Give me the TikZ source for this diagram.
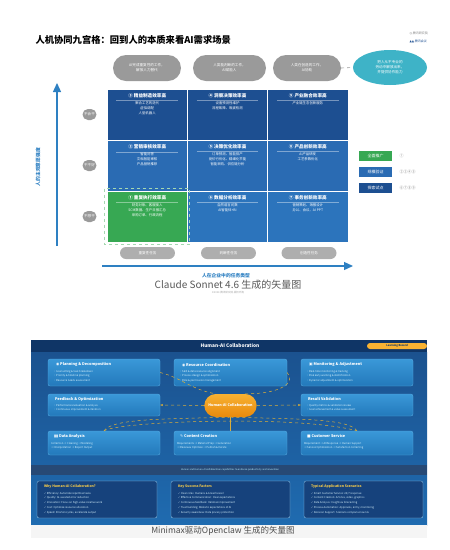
\documentclass[tikz,border=0pt]{standalone}
\usepackage{fontspec}
\setmainfont{Noto Sans CJK SC}
\newfontfamily\symfont{DejaVu Sans}
\usetikzlibrary{shapes.geometric, shapes.misc, arrows.meta, positioning, calc}
\definecolor{navy}{HTML}{1D4F91}
\definecolor{midblue}{HTML}{2A6BB3}
\definecolor{lowblue}{HTML}{2C74BC}
\definecolor{cellgreen}{HTML}{37A853}
\definecolor{pillgray}{HTML}{9A9A9A}
\definecolor{axisblue}{HTML}{2E80C2}
\definecolor{cyanell}{HTML}{3EB3C7}
\definecolor{paneltop}{HTML}{1B528F}
\definecolor{panelbot}{HTML}{1F6BB0}
\definecolor{bardark}{HTML}{0F3566}
\definecolor{cardtop}{HTML}{3A98D8}
\definecolor{cardbot}{HTML}{2379BB}
\definecolor{cardline}{HTML}{5AAEE3}
\definecolor{hubtop}{HTML}{F8B232}
\definecolor{hubbot}{HTML}{E8890C}
\definecolor{gold}{HTML}{D9AE3A}
\definecolor{infobox}{HTML}{16427C}
\definecolor{infotitle}{HTML}{F2C94C}
\tikzset{
	% nine-grid styles
	pill/.style={rounded rectangle, fill=pillgray, text=white, align=center,
		inner sep=1pt, font=\fontsize{3.6}{5}\selectfont},
	cell/.style={rectangle, draw=white, line width=0.8pt,
		minimum width=80.3pt, minimum height=51pt},
	celltext/.style={align=center, text=white, inner sep=0pt,
		font=\fontsize{3.4}{5}\selectfont},
	tag/.style={rectangle, text=white, minimum width=33pt, minimum height=10pt,
		inner sep=0pt, font=\fontsize{4}{5}\selectfont},
	axisarrow/.style={-{Triangle[length=9pt,width=8pt]}, draw=axisblue, line width=1.3pt},
	axislabel/.style={text=axisblue, font=\bfseries\fontsize{4.8}{6}\selectfont},
	% collaboration panel styles
	card/.style={rectangle, rounded corners=2pt, draw=cardline, line width=0.3pt,
		top color=cardtop, bottom color=cardbot},
	cardtitle/.style={text=white, inner sep=0pt, font=\bfseries\fontsize{3.8}{5}\selectfont},
	cardtext/.style={text=white!85!cyan, align=left, inner sep=0pt,
		font=\fontsize{2.6}{4.8}\selectfont},
	infocard/.style={rectangle, rounded corners=2pt, draw=cardline!60, line width=0.3pt,
		fill=infobox},
	infotitle/.style={text=infotitle, inner sep=0pt, font=\bfseries\fontsize{3.4}{5}\selectfont},
	hub/.style={rounded rectangle, top color=hubtop, bottom color=hubbot, text=white,
		minimum width=59pt, minimum height=23pt, font=\bfseries\fontsize{3.6}{5}\selectfont},
	link/.style={draw=gold, line width=0.5pt, dashed},
	linkarrow/.style={-{Stealth[length=3pt]}, draw=gold, line width=0.5pt, dashed},
}
\begin{document}
\begin{tikzpicture}[x=1pt, y=-1pt]
\useasboundingbox (0,0) rectangle (450,550);
% ---------- nine-grid ----------
\node[anchor=west, font=\bfseries\fontsize{9.3}{11}\selectfont] (title) at (32,40) {人机协同九宫格：回到人的本质来看AI需求场景};
\node[anchor=west, text=black!50, font=\fontsize{3}{4}\selectfont] (logoa) at (406,33) {{\symfont ◎} 腾讯研究院};
\node[anchor=west, text=navy, font=\fontsize{3}{4}\selectfont] (logob) at (406,41) {{\symfont ▲▲} 腾讯会议};

\node[pill, minimum width=70pt, minimum height=26pt] (p1) at (147,68) {AI完成重复性的工作，\\解放人力替代};
\node[pill, minimum width=75pt, minimum height=26pt] (p2) at (229.5,68) {人类能判断的工作，\\AI赋能人};
\node[pill, minimum width=70pt, minimum height=26pt] (p3) at (307,68) {人类在创造的工作，\\AI协助};
\node[ellipse, fill=cyanell, text=white, align=center, minimum width=74pt, minimum height=35pt,
	inner sep=0pt, font=\fontsize{3.6}{5}\selectfont] (goal) at (390,67.5) {把人从不专业的\\劳动中解放出来，\\并提供协作能力};
\draw[pillgray, dashed, line width=0.6pt] (p3.east) -- (goal.west);

\node[cell, fill=navy] (c11) at (147.2,114.5) {};
\node[cell, fill=navy] (c12) at (227.5,114.5) {};
\node[cell, fill=navy] (c13) at (307.8,114.5) {};
\node[cell, fill=midblue] (c21) at (147.2,165.5) {};
\node[cell, fill=midblue] (c22) at (227.5,165.5) {};
\node[cell, fill=midblue] (c23) at (307.8,165.5) {};
\node[cell, fill=cellgreen] (c31) at (147.2,216.5) {};
\node[cell, fill=lowblue] (c32) at (227.5,216.5) {};
\node[cell, fill=lowblue] (c33) at (307.8,216.5) {};
\draw[cellgreen!45, dashed, line width=0.7pt] ([shift={(-2,-2)}]c31.north west) rectangle ([shift={(2,2)}]c31.south east);

\node[celltext, anchor=north] at ([shift={(0,5)}]c11.north) {{\bfseries\fontsize{4.6}{6}\selectfont ③ 精益制造效率高}\\[-2pt]{\color{white!40!navy}\rule{62pt}{0.3pt}}\\[-1pt]聚合工艺的迭代\\虚拟调配\\人型机器人};
\node[celltext, anchor=north] at ([shift={(0,5)}]c12.north) {{\bfseries\fontsize{4.6}{6}\selectfont ④ 洞察决策效率高}\\[-2pt]{\color{white!40!navy}\rule{62pt}{0.3pt}}\\[-1pt]设备预测性维护\\流程故障、瑕疵检测};
\node[celltext, anchor=north] at ([shift={(0,5)}]c13.north) {{\bfseries\fontsize{4.6}{6}\selectfont ⑨ 产业融合效率高}\\[-2pt]{\color{white!40!navy}\rule{62pt}{0.3pt}}\\[-1pt]产业链生态创新服务};
\node[celltext, anchor=north] at ([shift={(0,5)}]c21.north) {{\bfseries\fontsize{4.6}{6}\selectfont ② 营销审核效率高}\\[-2pt]{\color{white!40!midblue}\rule{62pt}{0.3pt}}\\[-1pt]智能问答\\文档智能审核\\产品营销推荐};
\node[celltext, anchor=north] at ([shift={(0,5)}]c22.north) {{\bfseries\fontsize{4.6}{6}\selectfont ⑤ 决策优化效率高}\\[-2pt]{\color{white!40!midblue}\rule{62pt}{0.3pt}}\\[-1pt]订单预测、智能排产\\竞价行优化、精细化节能\\智能采购、供应链分析};
\node[celltext, anchor=north] at ([shift={(0,5)}]c23.north) {{\bfseries\fontsize{4.6}{6}\selectfont ⑧ 产品创新效率高}\\[-2pt]{\color{white!40!midblue}\rule{62pt}{0.3pt}}\\[-1pt]AI产品研发\\工艺参数优化};
\node[celltext, anchor=north] at ([shift={(0,5)}]c31.north) {{\bfseries\fontsize{4.6}{6}\selectfont ① 重复执行效率高}\\[-2pt]{\color{white!40!cellgreen}\rule{62pt}{0.3pt}}\\[-1pt]财务对账、客服接入\\SCM数据、生产日报汇总\\采购订单、行政流程};
\node[celltext, anchor=north] at ([shift={(0,5)}]c32.north) {{\bfseries\fontsize{4.6}{6}\selectfont ⑥ 数据分析效率高}\\[-2pt]{\color{white!40!lowblue}\rule{62pt}{0.3pt}}\\[-1pt]自然语言问数\\AI智能体+BI};
\node[celltext, anchor=north] at ([shift={(0,5)}]c33.north) {{\bfseries\fontsize{4.6}{6}\selectfont ⑦ 事务创新效率高}\\[-2pt]{\color{white!40!lowblue}\rule{62pt}{0.3pt}}\\[-1pt]营销策划、海报设计\\办公、会议、AI PPT};

\node[pill, minimum width=16pt, minimum height=11pt] (r1) at (89.5,114.5) {不会干};
\node[pill, minimum width=16pt, minimum height=11pt] (r2) at (89.5,165.5) {干不好};
\node[pill, minimum width=16pt, minimum height=11pt] (r3) at (89.5,216.5) {不想干};
\node[pill, minimum width=57pt, minimum height=12pt, fill=pillgray!80] (k1) at (147.5,253) {重复性任务};
\node[pill, minimum width=57pt, minimum height=12pt, fill=pillgray!80] (k2) at (228.5,253) {判断性任务};
\node[pill, minimum width=57pt, minimum height=12pt, fill=pillgray!80] (k3) at (309,253) {创造性任务};

\coordinate (yfrom) at (57,246);
\coordinate (yto) at (57,83);
\draw[axisarrow] (yfrom) -- (yto);
\node[axislabel, rotate=90] (ylab) at (38,167) {人的主观意愿强度};
\coordinate (xfrom) at (102,266);
\coordinate (xto) at (353,266);
\draw[axisarrow] (xfrom) -- (xto);
\node[axislabel] (xlab) at (226,276) {人在企业中的任务类型};

\node[tag, fill=cellgreen] (g1) at (375.5,156) {全面推广};
\node[tag, fill=midblue] (g2) at (375.5,172) {规模验证};
\node[tag, fill=navy] (g3) at (375.5,188) {探索试点};
\node[anchor=west, text=black!45, font=\fontsize{4}{5}\selectfont] at ([xshift=4pt]g1.east) {①};
\node[anchor=west, text=black!45, font=\fontsize{4}{5}\selectfont] at ([xshift=4pt]g2.east) {②③④⑤};
\node[anchor=west, text=black!45, font=\fontsize{4}{5}\selectfont] at ([xshift=4pt]g3.east) {⑥⑦⑧⑨};

\node[text=black!65, font=\fontsize{10}{12}\selectfont] (cap1) at (228,285) {Claude Sonnet 4.6 生成的矢量图};
\node[text=black!35, font=\fontsize{2.6}{3}\selectfont] at (228,293) {©2024 腾讯研究院 版权所有};

% ---------- collaboration panel ----------
\fill[top color=paneltop, bottom color=panelbot] (31,352) rectangle (427,525);
\fill[bardark] (31,340) rectangle (427,352);
\node[text=white, font=\bfseries\fontsize{4.8}{6}\selectfont] (ptitle) at (230,346) {Human-AI Collaboration};
\node[rounded rectangle, fill=hubtop, text=bardark, minimum width=60pt, minimum height=6pt, inner sep=0pt,
	font=\bfseries\fontsize{2.6}{3}\selectfont] (learn) at (397,346) {Learning Record};

\node[card, minimum width=112pt, minimum height=27pt] (plan) at (104,372.5) {};
\node[card, minimum width=113pt, minimum height=27pt] (res) at (230.5,372.5) {};
\node[card, minimum width=112pt, minimum height=27pt] (mon) at (357,372.5) {};
\node[cardtitle, anchor=west] at ([shift={(8,6)}]plan.north west) {{\symfont ◉} Planning \& Decomposition};
\node[cardtitle, anchor=west] at ([shift={(8,6)}]res.north west) {{\symfont ◉} Resource Coordination};
\node[cardtitle, anchor=west] at ([shift={(8,6)}]mon.north west) {{\symfont ▣} Monitoring \& Adjustment};
\node[cardtext, anchor=north west] at ([shift={(5,11)}]plan.north west) {• Goal setting \& task breakdown\\• Priority \& timeline planning\\• Resource needs assessment};
\node[cardtext, anchor=north west] at ([shift={(5,11)}]res.north west) {• Skill \& data resource alignment\\• Process design \& optimization\\• Role \& permission management};
\node[cardtext, anchor=north west] at ([shift={(5,11)}]mon.north west) {• Real-time monitoring \& tracking\\• Risk early warning \& identification\\• Dynamic adjustment \& optimization};

\node[card, minimum width=112pt, minimum height=22pt] (feed) at (104,405) {};
\node[card, minimum width=112pt, minimum height=22pt] (valid) at (357,405) {};
\node[cardtitle, anchor=west] at ([shift={(7,5)}]feed.north west) {Feedback \& Optimization};
\node[cardtitle, anchor=west] at ([shift={(7,5)}]valid.north west) {Result Validation};
\node[cardtext, anchor=north west] at ([shift={(5,10)}]feed.north west) {• Performance evaluation \& analysis\\• Continuous improvement \& iteration};
\node[cardtext, anchor=north west] at ([shift={(5,10)}]valid.north west) {• Quality metrics \& validation review\\• Goal achievement \& value assessment};

\node[hub] (hub) at (230.5,405.5) {Human-AI Collaboration};

\node[card, minimum width=112pt, minimum height=24pt] (data) at (104,443) {};
\node[card, minimum width=113pt, minimum height=24pt] (content) at (230.5,443) {};
\node[card, minimum width=112pt, minimum height=24pt] (cust) at (357,443) {};
\node[cardtitle, anchor=west] at ([shift={(6,5)}]data.north west) {{\symfont ▮▮} Data Analysis};
\node[cardtitle, anchor=west] at ([shift={(6,5)}]content.north west) {{\symfont ✎} Content Creation};
\node[cardtitle, anchor=west] at ([shift={(6,5)}]cust.north west) {{\symfont ■} Customer Service};
\node[cardtext, anchor=north west] at ([shift={(3,11)}]data.north west) {Collection → Cleaning → Modeling\\→ Interpretation → Report Output};
\node[cardtext, anchor=north west] at ([shift={(3,11)}]content.north west) {Requirements → Material Prep → Generation\\→ Review \& Optimize → Publish \& Iterate};
\node[cardtext, anchor=north west] at ([shift={(3,11)}]cust.north west) {Requirement → AI Response → Human Support\\→ Service Optimization → Satisfaction Collecting};

\draw[link] (plan.east) .. controls (182,378) and (192,390) .. (hub.north west);
\draw[link] (hub.north east) .. controls (282,394) and (296,382) .. (res.east);
\draw[linkarrow] (hub.west) -- (feed.east);
\draw[linkarrow] (hub.east) -- (valid.west);
\draw[gold, line width=0.5pt] (hub.south) -- (content.north);
\draw[link] (data.north) .. controls (112,418) and (170,419) .. (hub.south);
\draw[link] (cust.north) .. controls (349,418) and (291,419) .. (hub.south);
\draw[link] (data.north) .. controls (120,421) and (300,415) .. (cust.north);

\fill[bardark!90] (31,465) rectangle (427,475);
\node[text=white!70!cyan, font=\fontsize{2.4}{3}\selectfont] (motto) at (230,470) {Human and Human-AI collaboration capabilities to enhance productivity and innovation};

\node[infocard, minimum width=120pt, minimum height=37pt] (why) at (97,499.5) {};
\node[infocard, minimum width=119pt, minimum height=37pt] (keys) at (230.5,499.5) {};
\node[infocard, minimum width=119pt, minimum height=37pt] (apps) at (363.5,499.5) {};
\node[infotitle, anchor=west] at ([shift={(7,6)}]why.north west) {Why Human-AI Collaboration?};
\node[infotitle, anchor=west] at ([shift={(7,6)}]keys.north west) {Key Success Factors};
\node[infotitle, anchor=west] at ([shift={(7,6)}]apps.north west) {Typical Application Scenarios};
\node[cardtext, anchor=north west] at ([shift={(7,11)}]why.north west) {{\symfont ✓} Efficiency: Automate repetitive tasks\\{\symfont ✓} Quality: AI-assisted error reduction\\{\symfont ✓} Innovation: Focus on high-value creative work\\{\symfont ✓} Cost: Optimize resource allocation\\{\symfont ✓} Speed: Shorten cycles, accelerate output};
\node[cardtext, anchor=north west] at ([shift={(7,11)}]keys.north west) {{\symfont ✓} Clear roles: Humans \& AI each excel\\{\symfont ✓} Effective Communication: Clear expectations\\{\symfont ✓} Continuous feedback: Iterative improvement\\{\symfont ✓} Trust building: Realistic expectations of AI\\{\symfont ✓} Security awareness: Data privacy protection};
\node[cardtext, anchor=north west] at ([shift={(7,11)}]apps.north west) {{\symfont ✓} Smart Customer Service: 24/7 response\\{\symfont ✓} Content Creation: Articles, video, graphics\\{\symfont ✓} Data Analysis: Insights \& forecasting\\{\symfont ✓} Process Automation: Approvals, entry, monitoring\\{\symfont ✓} Decision Support: Scenario comparison \& risk};

\fill[black!4] (31,525) rectangle (427,538);
\node[text=black!70, font=\fontsize{8.5}{10}\selectfont] (cap2) at (223,531) {Minimax驱动Openclaw 生成的矢量图};
\end{tikzpicture}
\end{document}
